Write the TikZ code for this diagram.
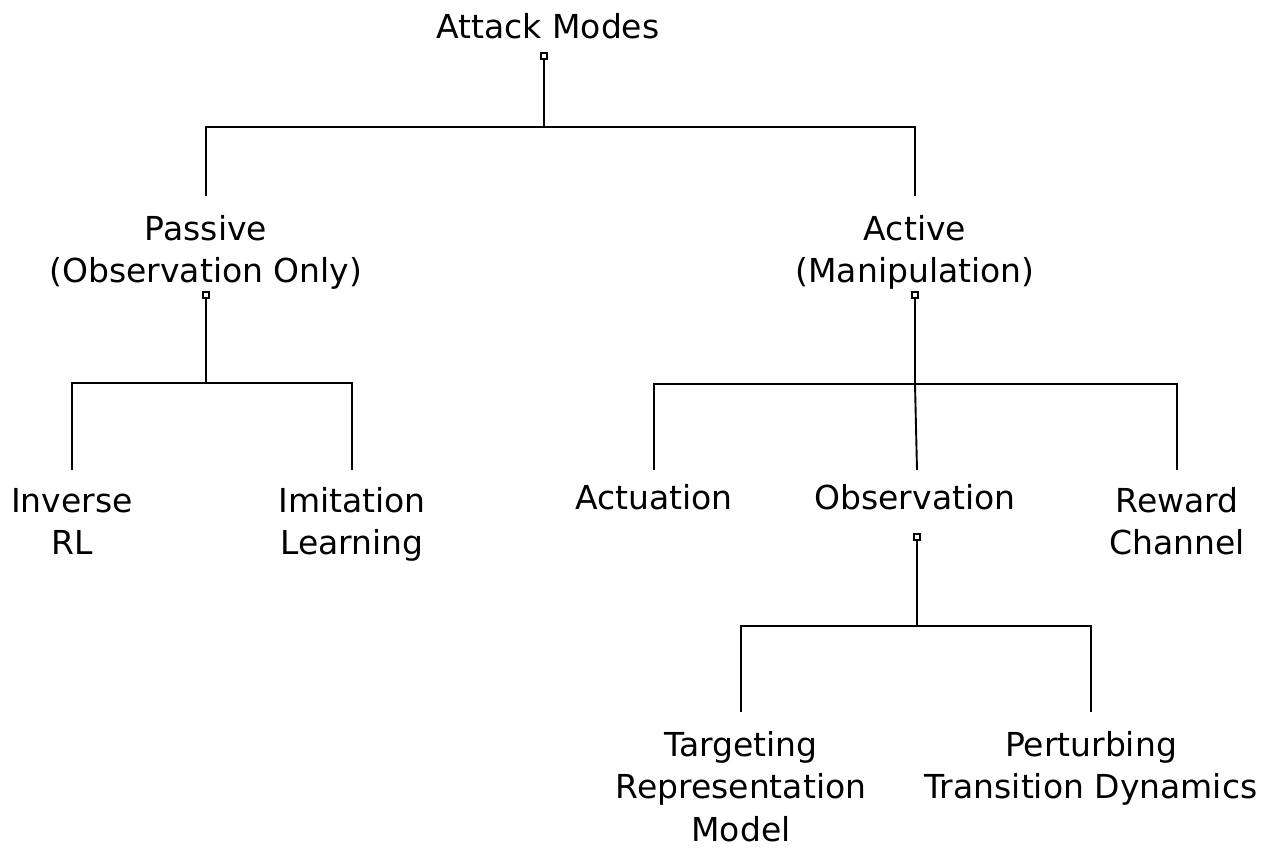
\documentclass[tikz,border=0pt]{standalone}
\usepackage{fontspec}
\setmainfont{DejaVu Sans}
\begin{document}
\begin{tikzpicture}[x=1pt,y=1pt,
  lbl/.style={font=\fontsize{33}{42.5}\selectfont, align=center, inner sep=0pt, anchor=north},
  port/.style={draw, fill=white, rectangle, minimum size=6pt, inner sep=0pt, line width=1.5pt},
  edge/.style={line width=1.9pt}]
\useasboundingbox (0,0) rectangle (1274,848);
% text nodes
\node[lbl] (am)   at (548,836) {\rule{0pt}{26pt}Attack Modes};
\node[lbl] (pas)  at (206,634) {\rule{0pt}{26pt}Passive\\(Observation Only)};
\node[lbl] (act)  at (915,634) {\rule{0pt}{26pt}Active\\(Manipulation)};
\node[lbl] (inv)  at (72,362)  {\rule{0pt}{26pt}Inverse\\RL};
\node[lbl] (imi)  at (352,362) {\rule{0pt}{26pt}Imitation\\Learning};
\node[lbl] (actu) at (654,365) {\rule{0pt}{26pt}Actuation};
\node[lbl] (obs)  at (915,365) {\rule{0pt}{26pt}Observation};
\node[lbl] (rew)  at (1177,362){\rule{0pt}{26pt}Reward\\Channel};
\node[lbl] (tar)  at (741,118) {\rule{0pt}{26pt}Targeting\\Representation\\Model};
\node[lbl] (per)  at (1091,118){\rule{0pt}{26pt}Perturbing\\Transition Dynamics};
% port positions
\coordinate (amc)  at (544,792);
\coordinate (pasc) at (206,553);
\coordinate (actc) at (915,553);
\coordinate (obsc) at (917,311);
% bar and end levels
\coordinate (b1) at (0,721);  \coordinate (e1) at (0,652);
\coordinate (b2) at (0,465);  \coordinate (e2) at (0,378);
\coordinate (b3) at (0,464);  \coordinate (e3) at (0,378);
\coordinate (b4) at (0,222);  \coordinate (e4) at (0,136);
% connectors
\draw[edge] (amc) -- (amc |- b1);
\draw[edge] (pas.north |- e1) |- (amc |- b1) -| (act.north |- e1);
\draw[edge] (pasc) -- (pasc |- b2);
\draw[edge] (inv.north |- e2) |- (pasc |- b2) -| (imi.north |- e2);
\draw[edge] (actc) -- (actc |- b3) -- (obsc |- e3);
\draw[edge] (actu.north |- e3) |- (actc |- b3) -| (rew.north |- e3);
\draw[edge] (obsc) -- (obsc |- b4);
\draw[edge] (tar.north |- e4) |- (obsc |- b4) -| (per.north |- e4);
% ports
\node[port] (amp)  at (amc)  {};
\node[port] (pasp) at (pasc) {};
\node[port] (actp) at (actc) {};
\node[port] (obsp) at (obsc) {};
\end{tikzpicture}
\end{document}
